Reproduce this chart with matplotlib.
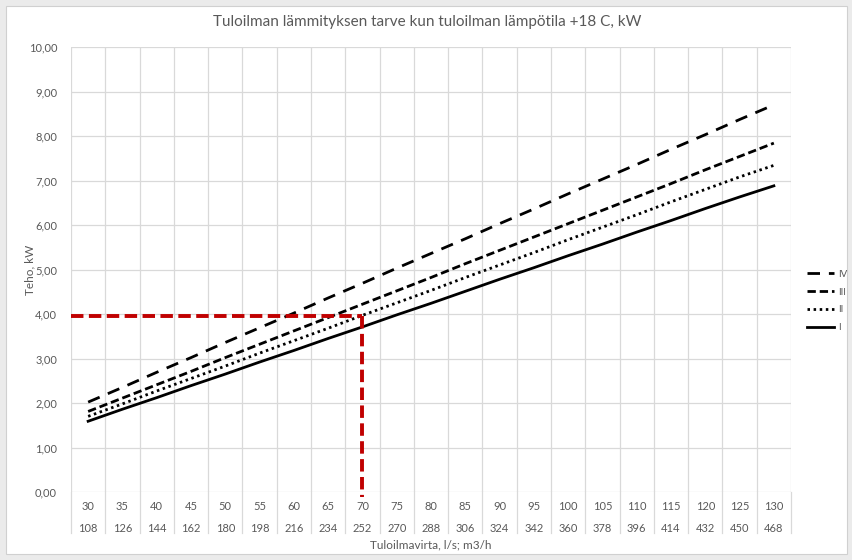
import matplotlib
matplotlib.use("Agg")
import matplotlib.pyplot as plt
from matplotlib.lines import Line2D
from matplotlib.patches import Rectangle
import matplotlib.transforms as mtransforms

plt.rcParams['font.family'] = ['Lato', 'DejaVu Sans']

flow_ls = [30, 35, 40, 45, 50, 55, 60, 65, 70, 75, 80, 85, 90, 95, 100, 105, 110, 115, 120, 125, 130]
flow_m3h = [108, 126, 144, 162, 180, 198, 216, 234, 252, 270, 288, 306, 324, 342, 360, 378, 396, 414, 432, 450, 468]

zone_IV = [2.02, 2.35, 2.69, 3.02, 3.36, 3.69, 4.02, 4.36, 4.69, 5.03, 5.36, 5.69, 6.03, 6.36, 6.70, 7.03, 7.36, 7.70, 8.03, 8.37, 8.70]
zone_III = [1.81, 2.11, 2.41, 2.71, 3.02, 3.32, 3.62, 3.92, 4.22, 4.52, 4.82, 5.13, 5.43, 5.73, 6.03, 6.33, 6.63, 6.93, 7.24, 7.54, 7.84]
zone_II = [1.70, 1.98, 2.27, 2.55, 2.83, 3.12, 3.40, 3.68, 3.97, 4.25, 4.53, 4.82, 5.10, 5.38, 5.67, 5.95, 6.23, 6.52, 6.80, 7.08, 7.34]
zone_I = [1.59, 1.86, 2.12, 2.39, 2.65, 2.92, 3.18, 3.45, 3.71, 3.98, 4.24, 4.51, 4.78, 5.04, 5.31, 5.57, 5.84, 6.10, 6.37, 6.63, 6.88]

marker_power = 3.96
marker_flow = 70

title = "Tuloilman lämmityksen tarve kun tuloilman lämpötila +18 C, kW"
xlabel = "Tuloilmavirta, l/s; m3/h"
ylabel = "Teho, kW"

text_col = "#595959"
grid_col = "#d9d9d9"

fig = plt.figure(figsize=(8.53, 5.60), dpi=100)
fig.patch.set_facecolor("#ebebeb")
fig.patches.append(Rectangle((6/853, 6/560), 1 - 12/853, 1 - 12/560, transform=fig.transFigure,
                             facecolor="white", edgecolor="#d0d0d0", lw=0.8, zorder=-10))

L, R, T, B = 71, 791, 47, 492
ax = fig.add_axes([L/853, 1 - B/560, (R - L)/853, (B - T)/560])
ax.set_zorder(2)
ax.set_facecolor("white")
n = len(flow_ls)
xs = list(range(n))

ax.plot(xs, zone_IV, color="black", lw=2.0, linestyle=(0, (4.5, 3.2)), solid_capstyle="butt", zorder=3)
ax.plot(xs, zone_III, color="black", lw=2.0, linestyle=(0, (3.0, 1.4)), zorder=3)
ax.plot(xs, zone_II, color="black", lw=2.0, linestyle=(0, (0.9, 1.3)), zorder=3)
ax.plot(xs, zone_I, color="black", lw=2.0, linestyle="-", zorder=3)

mi = flow_ls.index(marker_flow)
red = "#c00000"
ax.plot([-0.5, mi], [marker_power, marker_power], color=red, lw=2.8, linestyle=(0, (3.2, 1.4)), zorder=4, clip_on=False)
ax.plot([mi, mi], [marker_power, -0.12], color=red, lw=2.8, linestyle=(0, (3.2, 1.4)), zorder=4, clip_on=False)

ax.set_xlim(-0.5, n - 0.5)
ax.set_ylim(0, 10)
ax.set_yticks([i for i in range(11)])
ax.set_yticklabels([f"{v:.2f}".replace(".", ",") for v in range(11)], color=text_col, fontsize=8)
ax.set_xticks([i - 0.5 for i in range(n + 1)])
ax.set_xticklabels([])
ax.tick_params(axis='both', length=0)
ax.tick_params(axis='y', pad=10)
ax.grid(True, color=grid_col, lw=0.9, zorder=0)
for s in ax.spines.values():
    s.set_visible(False)

trans = mtransforms.blended_transform_factory(ax.transData, ax.transAxes)
h = (B - T)
for i in range(n):
    ax.text(i, -14/h, str(flow_ls[i]), transform=trans, ha="center", va="center", fontsize=8, color=text_col)
    ax.text(i, -36/h, str(flow_m3h[i]), transform=trans, ha="center", va="center", fontsize=8, color=text_col)
for i in range(n + 1):
    ax.plot([i - 0.5, i - 0.5], [0, -41/h], transform=trans, color=grid_col, lw=0.9, clip_on=False)

ax.text(0.5, -53/h, xlabel, transform=ax.transAxes, ha="center", va="center", fontsize=8.5, color=text_col)
fig.text(30/853, 1 - 270/560, ylabel, rotation=90, ha="center", va="center", fontsize=8.5, color=text_col)
fig.text(427/853, 1 - 22/560, title, ha="center", va="center", fontsize=11, color=text_col)

handles = [
    Line2D([], [], color="black", lw=2.0, linestyle=(0, (4.5, 3.2))),
    Line2D([], [], color="black", lw=2.0, linestyle=(0, (3.0, 1.4))),
    Line2D([], [], color="black", lw=2.0, linestyle=(0, (0.9, 1.3))),
    Line2D([], [], color="black", lw=2.0, linestyle="-"),
]
leg = fig.legend(handles, ["IV", "III", "II", "I"], loc="center left", bbox_to_anchor=(803/853, 1 - 301/560),
                 frameon=False, fontsize=7, handlelength=2.8, handletextpad=0.4, labelspacing=0.9,
                 borderaxespad=0)
leg.set_zorder(10)
for t in leg.get_texts():
    t.set_color(text_col)

fig.savefig("out.png", dpi=100, facecolor=fig.get_facecolor())
